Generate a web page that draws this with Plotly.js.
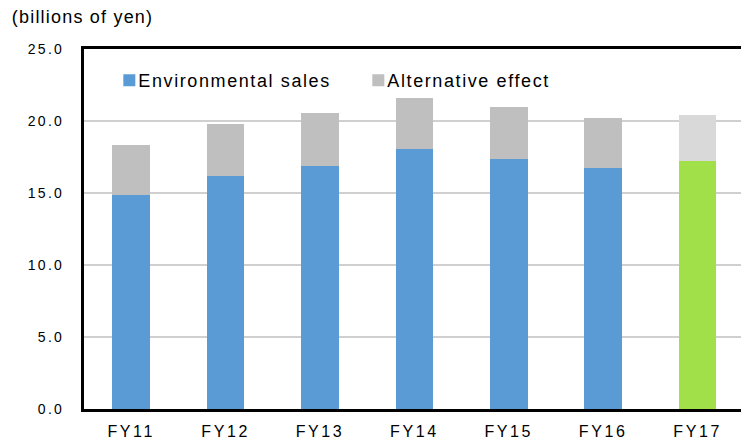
<!DOCTYPE html>
<html>
<head>
<meta charset="utf-8">
<script src="https://cdn.plot.ly/plotly-3.0.1.min.js"></script>
<style>
html,body{margin:0;padding:0;background:#fff;}
#chart{width:741px;height:442px;}
#chart .legendtext{letter-spacing:1.6px;}
#chart .xtick text{letter-spacing:2.6px;}
#chart .ytick text{letter-spacing:2.3px;}
#chart .annotation-text{letter-spacing:1.2px;}
</style>
</head>
<body>
<div id="chart"></div>
<script>
const categories = ["FY11", "FY12", "FY13", "FY14", "FY15", "FY16", "FY17"];
const environmentalSales = [14.86, 16.20, 16.88, 18.08, 17.38, 16.76, 17.24];
const alternativeEffect = [3.45, 3.59, 3.70, 3.54, 3.59, 3.43, 3.20];
const yTickValues = [0, 5, 10, 15, 20, 25];

const envColors = categories.map((c, i) => i === categories.length - 1 ? "#A2E04A" : "#5B9BD5");
const altColors = categories.map((c, i) => i === categories.length - 1 ? "#D9D9D9" : "#BFBFBF");

const font = "Arial, 'Liberation Sans', sans-serif";

const traces = [
  {
    type: "bar", name: "Environmental sales", x: categories, y: environmentalSales,
    marker: { color: envColors, line: { width: 0 } },
    hoverinfo: "skip"
  },
  {
    type: "bar", name: "Alternative effect", x: categories, y: alternativeEffect,
    marker: { color: altColors, line: { width: 0 } },
    hoverinfo: "skip"
  }
];

const layout = {
  width: 741, height: 442,
  margin: { l: 84, r: 0, t: 49, b: 33, pad: 0 },
  paper_bgcolor: "#FFFFFF", plot_bgcolor: "#FFFFFF",
  barmode: "stack",
  bargap: 0.6,
  font: { family: font, color: "#000000", size: 15 },
  showlegend: true,
  legend: {
    orientation: "h", x: 0.0218, y: 0.9125, xanchor: "left", yanchor: "middle",
    font: { family: font, size: 18, color: "#000000" },
    bgcolor: "rgba(0,0,0,0)", traceorder: "normal",
    entrywidth: 204, entrywidthmode: "pixels", itemwidth: 30
  },
  xaxis: {
    type: "category", range: [-0.5, 6.46],
    showline: true, linecolor: "#000000", linewidth: 3, mirror: true,
    showgrid: false, ticks: "", ticklabelstandoff: 6,
    tickfont: { family: font, size: 16, color: "#000000" },
    fixedrange: true
  },
  yaxis: {
    range: [0, 25], tickvals: yTickValues, tickformat: ".1f",
    showline: true, linecolor: "#000000", linewidth: 3, mirror: false,
    showgrid: true, gridcolor: "#D0D0D0", gridwidth: 2,
    zeroline: false, ticks: "", ticklabelstandoff: 14,
    tickfont: { family: font, size: 14, color: "#000000" },
    fixedrange: true
  },
  annotations: [
    {
      text: "(billions of yen)", xref: "paper", yref: "paper",
      x: -0.098, y: 1.0, xanchor: "left", yanchor: "bottom", yshift: 20,
      showarrow: false, font: { family: font, size: 18, color: "#000000" }
    }
  ]
};

Plotly.newPlot("chart", traces, layout, { displayModeBar: false, staticPlot: true }).then(function (gd) {
  gd.querySelectorAll(".legendsymbols").forEach(function (g) {
    const t = g.getAttribute("transform") || "";
    g.setAttribute("transform", t + " translate(11,0)");
  });
});
</script>
</body>
</html>
